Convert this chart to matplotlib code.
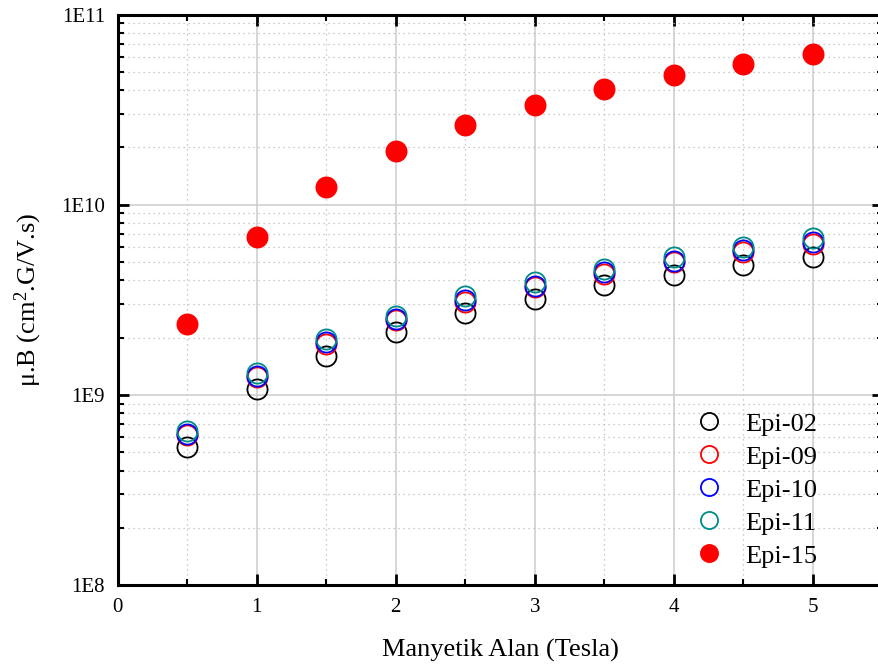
import matplotlib
matplotlib.use("Agg")
import matplotlib.pyplot as plt
from matplotlib.ticker import FixedLocator, FuncFormatter, LogLocator, NullFormatter
import numpy as np

plt.rcParams['font.family'] = ['Liberation Serif', 'DejaVu Serif']
plt.rcParams['mathtext.fontset'] = 'custom'
plt.rcParams['mathtext.rm'] = 'Liberation Serif'
plt.rcParams['mathtext.it'] = 'Liberation Serif:italic'

field = [0.5, 1.0, 1.5, 2.0, 2.5, 3.0, 3.5, 4.0, 4.5, 5.0]

epi02 = [5.3e8, 1.07e9, 1.60e9, 2.14e9, 2.68e9, 3.21e9, 3.76e9, 4.25e9, 4.80e9, 5.28e9]
epi09 = [6.15e8, 1.24e9, 1.86e9, 2.47e9, 3.08e9, 3.68e9, 4.32e9, 4.98e9, 5.62e9, 6.25e9]
epi10 = [6.25e8, 1.26e9, 1.89e9, 2.51e9, 3.14e9, 3.75e9, 4.40e9, 5.08e9, 5.75e9, 6.38e9]
epi11 = [6.49e8, 1.31e9, 1.97e9, 2.61e9, 3.29e9, 3.90e9, 4.57e9, 5.28e9, 5.99e9, 6.65e9]
epi15 = [2.37e9, 6.73e9, 1.24e10, 1.92e10, 2.64e10, 3.36e10, 4.07e10, 4.82e10, 5.50e10, 6.21e10]

series = [
    ("Epi-02", epi02, "black", False),
    ("Epi-09", epi09, "red", False),
    ("Epi-10", epi10, "blue", False),
    ("Epi-11", epi11, "#008b8b", False),
    ("Epi-15", epi15, "red", True),
]

fig = plt.figure(figsize=(8.79, 6.66), dpi=100)
ax = fig.add_axes([0.1337, 0.1216, 0.8703, 0.8566])

for name, vals, col, filled in series:
    ax.plot(field, vals, linestyle='none', marker='o', markersize=14.5,
            markerfacecolor=col if filled else 'none', markeredgecolor=col,
            markeredgewidth=1.3, label=name, zorder=3)

ax.set_yscale('log')
ax.set_xlim(0, 5.5)
ax.set_ylim(1e8, 1e11)

ax.xaxis.set_major_locator(FixedLocator([0, 1, 2, 3, 4, 5]))
ax.xaxis.set_minor_locator(FixedLocator([0.5, 1.5, 2.5, 3.5, 4.5]))
ax.yaxis.set_major_locator(FixedLocator([1e8, 1e9, 1e10, 1e11]))
ax.yaxis.set_minor_locator(LogLocator(base=10, subs=np.arange(2, 10)))
ax.yaxis.set_minor_formatter(NullFormatter())
ax.yaxis.set_major_formatter(FuncFormatter(lambda v, p: "1E%d" % round(np.log10(v))))

ax.grid(which='major', color='#cccccc', linewidth=1.1, linestyle='-')
ax.grid(which='minor', color='#bbbbbb', linewidth=0.9, linestyle=(0, (1, 3)))
ax.set_axisbelow(True)

ax.tick_params(which='major', direction='in', length=8, width=2,
               top=True, right=True, labelsize=15, pad=9)
ax.tick_params(which='minor', direction='in', length=4.5, width=1.5,
               top=True, right=True)
for s in ax.spines.values():
    s.set_linewidth(2.2)

ax.set_xlabel("Manyetik Alan (Tesla)", fontsize=19, labelpad=16)
ax.set_ylabel(r"μ.B (cm$^{2}$.G/V.s)", fontsize=19, labelpad=12)

ax.legend(loc='lower right', bbox_to_anchor=(0.928, 0.012), frameon=False,
          fontsize=19, handletextpad=0.35, labelspacing=0.36, borderaxespad=0,
          markerscale=0.85)

fig.savefig("out.png", dpi=100)
